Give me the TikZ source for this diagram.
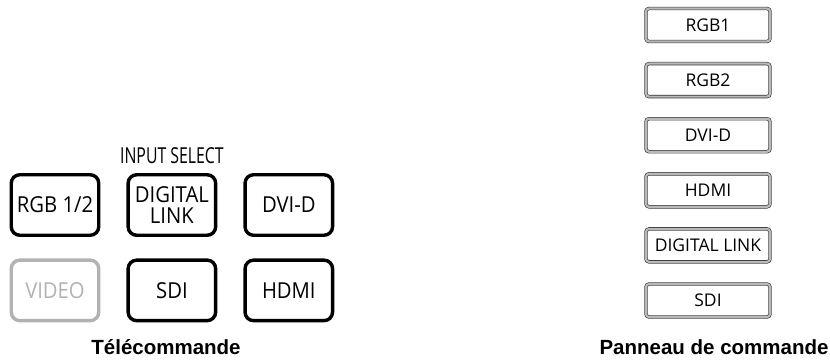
\documentclass[tikz,border=0pt]{standalone}
\usepackage{fontspec}
\setmainfont{Liberation Sans}
\newfontfamily\keyfont[FakeStretch=0.92]{Open Sans}
\newfontfamily\condfont[FakeStretch=0.72]{Open Sans}
\newfontfamily\panelfont{Open Sans}
\usetikzlibrary{positioning}

\begin{document}
\begin{tikzpicture}[
    x=1pt, y=-1pt,
    node distance=21.5pt and 26pt,
    remote/.style={rectangle, draw, line width=3.4pt, rounded corners=8.5pt, minimum width=87.5pt, minimum height=60.5pt, inner sep=0pt, align=center, font=\keyfont\fontsize{22}{21}\selectfont},
    greyed/.style={remote, draw=gray!60, text=gray!60},
    panel/.style={rectangle, draw=black!80, double=gray!55, double distance=2.2pt, line width=0.6pt, rounded corners=3pt, fill=white, minimum width=124pt, minimum height=33pt, inner sep=0pt, font=\panelfont\fontsize{17.5}{17.5}\selectfont,
        append after command={\pgfextra{\draw[black!80, line width=0.6pt] ([shift={(3pt,2.6pt)}]\tikzlastnode.south west) rectangle ([shift={(-3pt,-2.6pt)}]\tikzlastnode.north east);}}},
    caption/.style={font=\bfseries\fontsize{20.5}{20.5}\selectfont, inner sep=0pt, anchor=base}
]
    \useasboundingbox (0,0) rectangle (830,361);

    % remote control keys
    \node [remote] (rgb12) at (55,205) {RGB 1/2};
    \node [remote, right=of rgb12] (dlink) {DIGITAL\\LINK};
    \node [remote, right=of dlink] (dvid) {DVI-D};
    \node [greyed, below=of rgb12] (video) {VIDEO};
    \node [remote, below=of dlink] (sdi) {SDI};
    \node [remote, below=of dvid] (hdmi) {HDMI};
    \node [font=\condfont\fontsize{22}{22}\selectfont, inner sep=0pt, above=9.5pt of dlink] (insel) {INPUT SELECT};

    % control panel keys
    \node [panel] (prgb1) at (708,25) {RGB1};
    \node [panel, below=21.5pt of prgb1] (prgb2) {RGB2};
    \node [panel, below=21.5pt of prgb2] (pdvid) {DVI-D};
    \node [panel, below=21.5pt of pdvid] (phdmi) {HDMI};
    \node [panel, below=21.5pt of phdmi] (pdlink) {DIGITAL LINK};
    \node [panel, below=21.5pt of pdlink] (psdi) {SDI};

    % captions
    \node [caption] (remcap) at (166,354) {Télécommande};
    \node [caption] (pancap) at (714,354) {Panneau de commande};

\end{tikzpicture}
\end{document}
